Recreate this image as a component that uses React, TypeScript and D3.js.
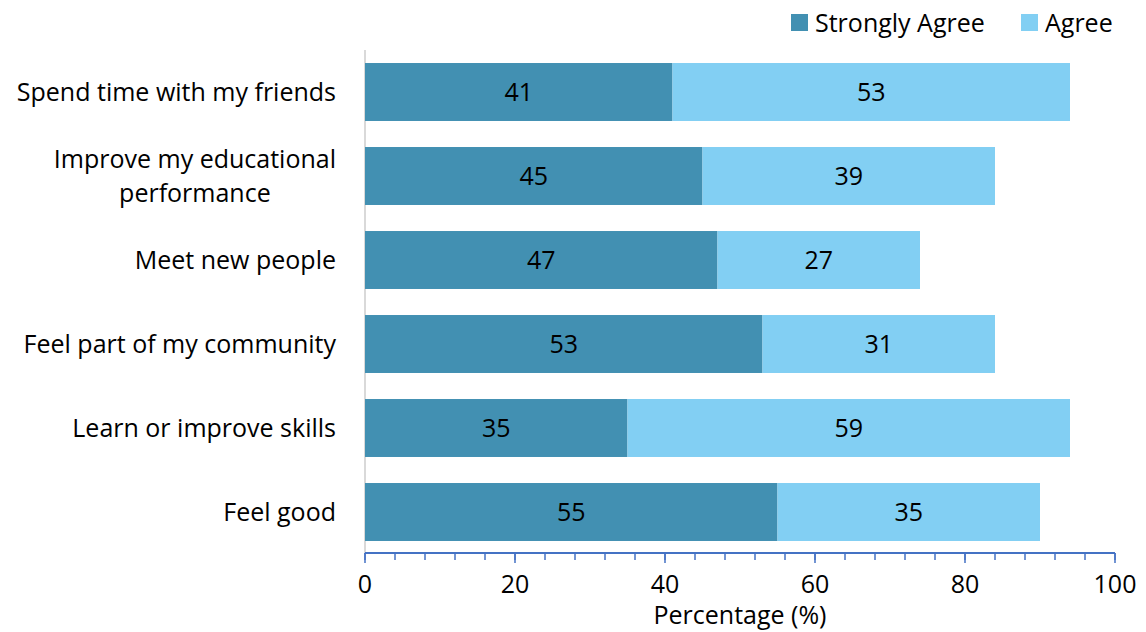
import React, { useEffect, useRef } from "react";
import * as d3 from "d3";

const categories = [
  ["Spend time with my friends"],
  ["Improve my educational", "performance"],
  ["Meet new people"],
  ["Feel part of my community"],
  ["Learn or improve skills"],
  ["Feel good"],
];
const stronglyAgree = [41, 45, 47, 53, 35, 55];
const agree = [53, 39, 27, 31, 59, 35];
const seriesNames = ["Strongly Agree", "Agree"];
const colors = ["#4290B2", "#82CFF3"];
const xTicks = [0, 20, 40, 60, 80, 100];

const W = 1146, H = 632;
const FONT = "'Open Sans', sans-serif";
const FS = 25;

export default function App() {
  const ref = useRef<SVGSVGElement>(null);
  useEffect(() => {
    const svg = d3.select(ref.current);
    svg.selectAll("*").remove();
    const left = 365, right = 1115, top = 50, bottom = 554;
    const x = d3.scaleLinear().domain([0, 100]).range([left, right]);
    const idx = categories.map((_, i) => i);
    const y = d3.scaleBand<number>().domain(idx).range([top, bottom]).paddingInner(0.31).paddingOuter(0.155);

    svg.append("line").attr("x1", left).attr("x2", left).attr("y1", top).attr("y2", bottom)
      .attr("stroke", "#d9d9d9").attr("stroke-width", 2);

    const g = svg.append("g");
    idx.forEach((i) => {
      const yy = y(i)!;
      const h = y.bandwidth();
      const a = stronglyAgree[i], b = agree[i];
      g.append("rect").attr("x", x(0)).attr("y", yy).attr("width", x(a) - x(0)).attr("height", h).attr("fill", colors[0]);
      g.append("rect").attr("x", x(a)).attr("y", yy).attr("width", x(a + b) - x(a)).attr("height", h).attr("fill", colors[1]);
      g.append("text").attr("x", (x(0) + x(a)) / 2).attr("y", yy + h / 2).attr("dy", "0.35em")
        .attr("text-anchor", "middle").attr("font-size", FS).attr("font-family", FONT).attr("fill", "#000").text(a);
      g.append("text").attr("x", (x(a) + x(a + b)) / 2).attr("y", yy + h / 2).attr("dy", "0.35em")
        .attr("text-anchor", "middle").attr("font-size", FS).attr("font-family", FONT).attr("fill", "#000").text(b);

      const lines = categories[i];
      const lh = 34;
      const cy = yy + h / 2;
      const labelRight = 336;
      const tg = g.append("g");
      const texts = lines.map((ln, k) =>
        tg.append("text").attr("y", cy + (k - (lines.length - 1) / 2) * lh).attr("dy", "0.35em")
          .attr("font-size", FS).attr("font-family", FONT).attr("fill", "#000").attr("text-anchor", "middle").text(ln)
      );
      const widths = texts.map((t) => (t.node() as SVGTextElement).getComputedTextLength());
      const maxW = Math.max(...widths);
      const center = labelRight - maxW / 2;
      texts.forEach((t) => t.attr("x", center));
    });

    const axisY = 553;
    svg.append("line").attr("x1", left).attr("x2", right).attr("y1", axisY).attr("y2", axisY)
      .attr("stroke", "#4472C4").attr("stroke-width", 2);
    d3.range(0, 101, 4).forEach((v) => {
      svg.append("line").attr("x1", x(v)).attr("x2", x(v)).attr("y1", axisY).attr("y2", axisY + 7)
        .attr("stroke", "#4472C4").attr("stroke-width", 1.5);
    });
    xTicks.forEach((v) => {
      svg.append("line").attr("x1", x(v)).attr("x2", x(v)).attr("y1", axisY).attr("y2", axisY + 10)
        .attr("stroke", "#4472C4").attr("stroke-width", 1.5);
      svg.append("text").attr("x", x(v)).attr("y", 584).attr("dy", "0.35em").attr("text-anchor", "middle")
        .attr("font-size", FS).attr("font-family", FONT).attr("fill", "#000").text(v);
    });
    svg.append("text").attr("x", 740).attr("y", 615).attr("dy", "0.35em").attr("text-anchor", "middle")
      .attr("font-size", FS).attr("font-family", FONT).attr("fill", "#000").text("Percentage (%)");

    const lg = svg.append("g");
    const legendX = [791, 1021];
    seriesNames.forEach((n, k) => {
      lg.append("rect").attr("x", legendX[k]).attr("y", 14).attr("width", 17).attr("height", 17).attr("fill", colors[k]);
      lg.append("text").attr("x", legendX[k] + 24).attr("y", 23).attr("dy", "0.35em")
        .attr("font-size", FS).attr("font-family", FONT).attr("fill", "#000").text(n);
    });
  }, []);
  return (
    <svg ref={ref} width={W} height={H} style={{ position: "absolute", left: 0, top: 0, background: "#fff" }} />
  );
}
